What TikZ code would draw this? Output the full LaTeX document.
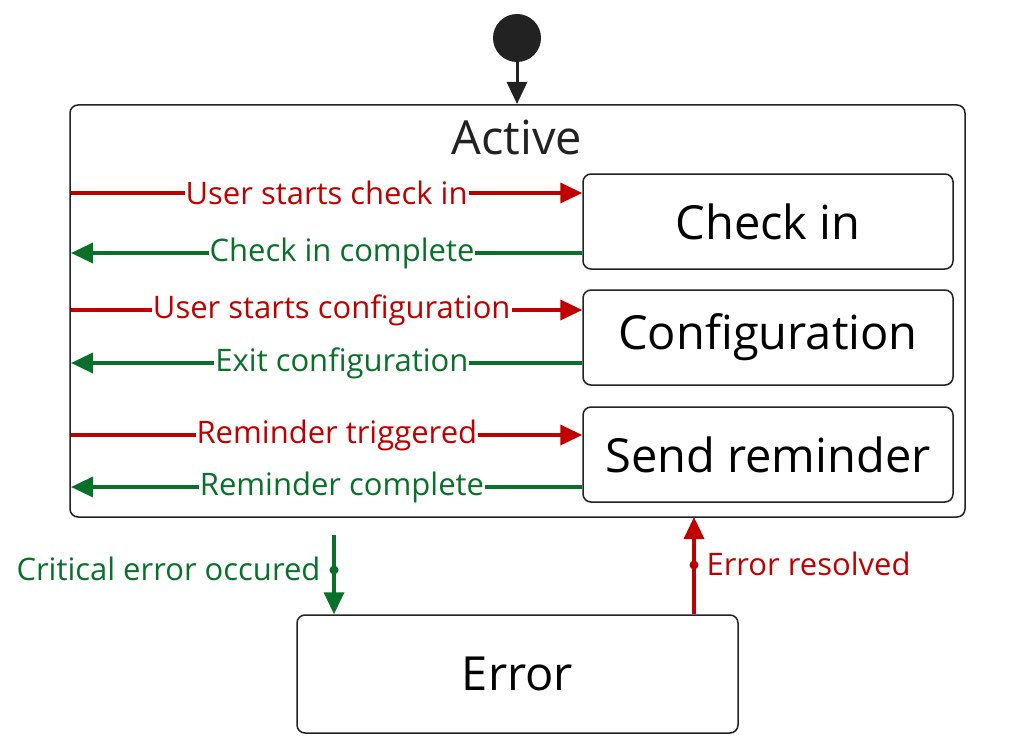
\documentclass[tikz,border=0pt]{standalone}
\usepackage{fontspec}
\setmainfont{Open Sans}
\usetikzlibrary{arrows.meta}
\definecolor{rd}{HTML}{C00000}
\definecolor{gn}{HTML}{087028}
\definecolor{dk}{HTML}{222222}
\begin{document}
\begin{tikzpicture}[x=1pt,y=-1pt,
 box/.style={draw=dk,line width=1.5pt,rounded corners=8pt,inner sep=0pt},
 st/.style={box,minimum width=370pt,minimum height=95pt,font=\fontsize{47}{50}\selectfont},
 arr/.style={line width=3.5pt,-{Triangle[length=22pt,width=20pt]}},
 lab/.style={fill=white,inner sep=1pt,font=\fontsize{31}{34}\selectfont}]
\useasboundingbox (0,0) rectangle (1024,749);
\fill[white] (0,0) rectangle (1024,749);
\node[box,minimum width=895pt,minimum height=412pt] (active) at (517.5,311) {};
\node[font=\fontsize{47}{50}\selectfont,text=dk] (atitle) at (517,137) {Active};
\node[st] (ci) at (768,221.5) {Check in};
\node[st] (cf) at (768,337.5) {Configuration};
\node[st] (sr) at (768,454.5) {Send reminder};
\node[box,minimum width=441pt,minimum height=118pt,font=\fontsize{47}{50}\selectfont] (err) at (517.5,674) {Error};
\node[inner sep=0pt,minimum size=48pt,circle,fill=dk] (ini) at (517,38) {};
\draw[arr,dk,line width=3pt] (ini.south) -- (517,104);
\coordinate (l1) at (71,193); \coordinate (l2) at (71,253);
\coordinate (l3) at (71,310); \coordinate (l4) at (71,363);
\coordinate (l5) at (71,435); \coordinate (l6) at (71,487);
\draw[arr,rd] (l1) -- node[lab,text=rd,pos=0.5]{User starts check in} (ci.west|-l1);
\draw[arr,gn] (ci.west|-l2) -- node[lab,text=gn,pos=0.47]{Check in complete} (l2);
\draw[arr,rd] (l3) -- node[lab,text=rd,pos=0.51]{User starts configuration} (cf.west|-l3);
\draw[arr,gn] (cf.west|-l4) -- node[lab,text=gn,pos=0.47]{Exit configuration} (l4);
\draw[arr,rd] (l5) -- node[lab,text=rd,pos=0.52]{Reminder triggered} (sr.west|-l5);
\draw[arr,gn] (sr.west|-l6) -- node[lab,text=gn,pos=0.47]{Reminder complete} (l6);
\coordinate (d1) at (334,535);
\draw[arr,gn] (d1) -- (err.north-|d1);
\fill[gn] (334,570) circle (4.5pt);
\node[text=gn,font=\fontsize{31}{34}\selectfont,anchor=east] (cl) at (324,569) {Critical error occured};
\coordinate (u1) at (694,517);
\draw[arr,rd] (err.north-|u1) -- (u1);
\fill[rd] (694,565) circle (4.5pt);
\node[text=rd,font=\fontsize{31}{34}\selectfont,anchor=west] (el) at (703,564) {Error resolved};
\end{tikzpicture}
\end{document}
